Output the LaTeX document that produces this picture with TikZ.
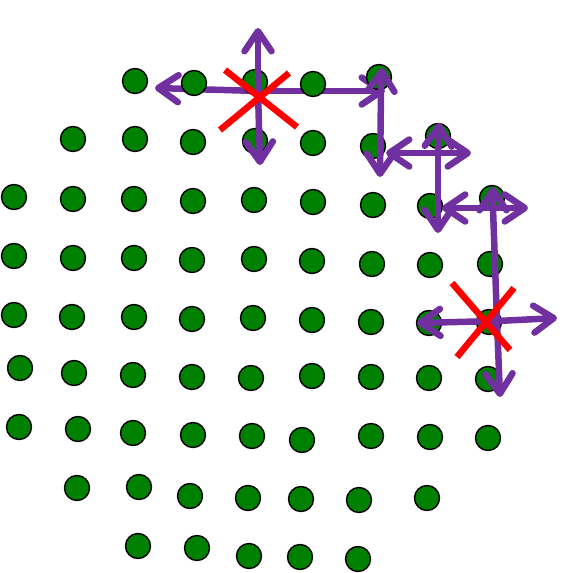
\documentclass[tikz,border=0pt]{standalone}
\usetikzlibrary{arrows.meta}
\definecolor{dotgreen}{RGB}{0,128,0}
\definecolor{arrpurple}{RGB}{112,48,160}
\tikzset{
  dot/.style={circle,draw=black,line width=1.4pt,fill=dotgreen,minimum size=25pt,inner sep=0pt},
  arr/.style={draw=arrpurple,line width=6.5pt,line cap=round,-{Straight Barb[length=20pt,width=27pt,round]}},
  seg/.style={draw=arrpurple,line width=6.5pt,line cap=round},
  cross/.style={draw=red,line width=6.5pt}
}
\begin{document}
\begin{tikzpicture}[x=1pt,y=-1pt]
\useasboundingbox (0,0) rectangle (584,573);
% arrow centres and ends
\coordinate (c1) at (258,91);
\coordinate (c1L) at (155,88);
\coordinate (c1U) at (258,28);
\coordinate (c1D) at (260,165);
\coordinate (c1R) at (385,91);
\coordinate (c2) at (381,91);
\coordinate (c2U) at (382,68);
\coordinate (c2D) at (380,177);
\coordinate (c3) at (438,153);
\coordinate (c3L) at (386,153);
\coordinate (c3R) at (471,153);
\coordinate (c3U) at (439,123);
\coordinate (c3D) at (438,233);
\coordinate (c4) at (493,208);
\coordinate (c4L) at (442,208);
\coordinate (c4R) at (528,208);
\coordinate (c4U) at (493,187);
\coordinate (c5) at (497,321);
\coordinate (c5L) at (417,323);
\coordinate (c5R) at (557,318);
\coordinate (c5D) at (500,397);
% horizontal arrows lying under the dots
\draw[arr] (c1) -- (c1L);
\draw[arr] (c1) -- (c1R);
% dots
\foreach \x/\y [count=\i] in {
 135/81,194/83,255/82,313/84,379/77,
 73/139,135/139,193/142,255/141,313/143,373/146,438/136,
 14/197,73/199,134/199,193/201,254/200,313/202,373/205,430/206,492/198,
 14/256,73/258,134/258,192/260,254/259,312/261,372/264,430/265,490/264,
 14/315,72/317,134/317,192/319,253/318,312/320,371/322,429/323,489/322,
 20/368,74/373,133/375,192/377,251/378,312/376,371/377,429/378,488/379,
 19/427,78/429,133/433,193/435,252/436,302/440,371/436,430/437,488/438,
 77/488,139/487,190/496,248/498,301/499,359/500,427/498,
 138/546,197/548,249/556,300/557,358/559}
 \node[dot] (d\i) at (\x,\y) {};
% arrows over the dots
\draw[arr] (c1) -- (c1U);
\draw[arr] (c1) -- (c1D);
\draw[arr] (c2) -- (c2U);
\draw[arr] (c2) -- (c2D);
\draw[arr] (c3) -- (c3L);
\draw[arr] (c3) -- (c3R);
\draw[arr] (c3) -- (c3U);
\draw[arr] (c3) -- (c3D);
\draw[arr] (c4) -- (c4L);
\draw[arr] (c4) -- (c4R);
\draw[arr] (c4) -- (c4U);
\draw[seg] (c4) -- (c5);
\draw[arr] (c5) -- (c5L);
\draw[arr] (c5) -- (c5R);
\draw[arr] (c5) -- (c5D);
% red crosses
\coordinate (x1a) at (225,70);
\coordinate (x1b) at (297,127);
\coordinate (x1c) at (220,130);
\coordinate (x1d) at (289,73);
\draw[cross] (x1a) -- (x1b);
\draw[cross] (x1c) -- (x1d);
\coordinate (x2a) at (452,283);
\coordinate (x2b) at (510,350);
\coordinate (x2c) at (457,357);
\coordinate (x2d) at (514,288);
\draw[cross] (x2a) -- (x2b);
\draw[cross] (x2c) -- (x2d);
\end{tikzpicture}
\end{document}
